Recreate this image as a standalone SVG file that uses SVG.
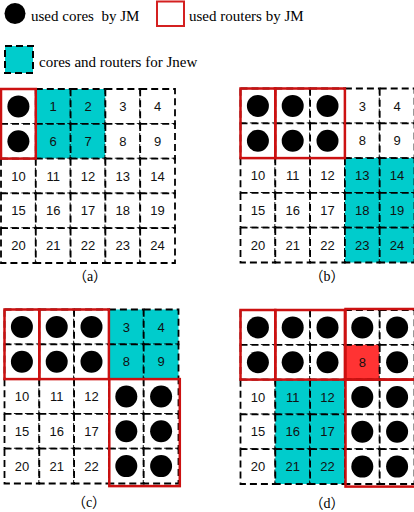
<svg xmlns="http://www.w3.org/2000/svg" width="414" height="512" viewBox="0 0 414 512">
<style>
.bg{fill:#fff}
use{fill:#fff}
.cy{fill:#00cccc}
.hot{fill:#ff3333}
.n{font-family:"Liberation Sans",Arial,sans-serif;font-size:13px;text-anchor:middle;fill:#111}
.core{fill:#000}
.red{fill:none;stroke:#cc1111;stroke-width:2.5}
.leg{font-family:"Liberation Serif","Times New Roman",serif;font-size:15px;fill:#000;white-space:pre}
.cap{font-family:"Liberation Serif","Noto Sans CJK SC",serif;font-size:14px;text-anchor:middle;fill:#000}
</style>
<defs>
<rect id="box" x="0" y="0" width="34.8" height="34.8" stroke="#000" stroke-width="1.8" stroke-dasharray="7 4"/>
</defs>
<rect class="bg" x="0" y="0" width="414" height="512"/>

<g id="legend">
<circle class="core" cx="15" cy="13.5" r="10.5"/>
<text class="leg" x="31" y="21" xml:space="preserve">used cores  by JM</text>
<rect x="157" y="1.5" width="27" height="24.5" fill="none" stroke="#d42020" stroke-width="2"/>
<text class="leg" x="189" y="21">used routers by JM</text>
<rect x="5" y="46" width="28" height="27" fill="#00cccc" stroke="#000" stroke-width="2" stroke-dasharray="7 4"/>
<text class="leg" x="39" y="67">cores and routers for Jnew</text>
</g>

<!-- Grid (a) -->
<g id="grid-a">
<g id="a0" transform="translate(1,89)"><use href="#box"/><circle class="core" cx="17.4" cy="17.4" r="11"/></g>
<g id="a1" transform="translate(35.8,89)"><use href="#box" class="cy"/><text class="n" x="17.4" y="22">1</text></g>
<g id="a2" transform="translate(70.6,89)"><use href="#box" class="cy"/><text class="n" x="17.4" y="22">2</text></g>
<g id="a3" transform="translate(105.4,89)"><use href="#box"/><text class="n" x="17.4" y="22">3</text></g>
<g id="a4" transform="translate(140.2,89)"><use href="#box"/><text class="n" x="17.4" y="22">4</text></g>
<g id="a5" transform="translate(1,123.8)"><use href="#box"/><circle class="core" cx="17.4" cy="17.4" r="11"/></g>
<g id="a6" transform="translate(35.8,123.8)"><use href="#box" class="cy"/><text class="n" x="17.4" y="22">6</text></g>
<g id="a7" transform="translate(70.6,123.8)"><use href="#box" class="cy"/><text class="n" x="17.4" y="22">7</text></g>
<g id="a8" transform="translate(105.4,123.8)"><use href="#box"/><text class="n" x="17.4" y="22">8</text></g>
<g id="a9" transform="translate(140.2,123.8)"><use href="#box"/><text class="n" x="17.4" y="22">9</text></g>
<g id="a10" transform="translate(1,158.6)"><use href="#box"/><text class="n" x="17.4" y="22">10</text></g>
<g id="a11" transform="translate(35.8,158.6)"><use href="#box"/><text class="n" x="17.4" y="22">11</text></g>
<g id="a12" transform="translate(70.6,158.6)"><use href="#box"/><text class="n" x="17.4" y="22">12</text></g>
<g id="a13" transform="translate(105.4,158.6)"><use href="#box"/><text class="n" x="17.4" y="22">13</text></g>
<g id="a14" transform="translate(140.2,158.6)"><use href="#box"/><text class="n" x="17.4" y="22">14</text></g>
<g id="a15" transform="translate(1,193.4)"><use href="#box"/><text class="n" x="17.4" y="22">15</text></g>
<g id="a16" transform="translate(35.8,193.4)"><use href="#box"/><text class="n" x="17.4" y="22">16</text></g>
<g id="a17" transform="translate(70.6,193.4)"><use href="#box"/><text class="n" x="17.4" y="22">17</text></g>
<g id="a18" transform="translate(105.4,193.4)"><use href="#box"/><text class="n" x="17.4" y="22">18</text></g>
<g id="a19" transform="translate(140.2,193.4)"><use href="#box"/><text class="n" x="17.4" y="22">19</text></g>
<g id="a20" transform="translate(1,228.2)"><use href="#box"/><text class="n" x="17.4" y="22">20</text></g>
<g id="a21" transform="translate(35.8,228.2)"><use href="#box"/><text class="n" x="17.4" y="22">21</text></g>
<g id="a22" transform="translate(70.6,228.2)"><use href="#box"/><text class="n" x="17.4" y="22">22</text></g>
<g id="a23" transform="translate(105.4,228.2)"><use href="#box"/><text class="n" x="17.4" y="22">23</text></g>
<g id="a24" transform="translate(140.2,228.2)"><use href="#box"/><text class="n" x="17.4" y="22">24</text></g>
<rect class="red" x="1" y="89" width="34.8" height="69.6"/>
<text class="cap" x="90" y="281">（a）</text>
</g>

<!-- Grid (b) -->
<g id="grid-b">
<g id="b0" transform="translate(240.5,88.5)"><use href="#box"/><circle class="core" cx="17.4" cy="17.4" r="11"/></g>
<g id="b1" transform="translate(275.3,88.5)"><use href="#box"/><circle class="core" cx="17.4" cy="17.4" r="11"/></g>
<g id="b2" transform="translate(310.1,88.5)"><use href="#box"/><circle class="core" cx="17.4" cy="17.4" r="11"/></g>
<g id="b3" transform="translate(344.9,88.5)"><use href="#box"/><text class="n" x="17.4" y="22">3</text></g>
<g id="b4" transform="translate(379.7,88.5)"><use href="#box"/><text class="n" x="17.4" y="22">4</text></g>
<g id="b5" transform="translate(240.5,123.3)"><use href="#box"/><circle class="core" cx="17.4" cy="17.4" r="11"/></g>
<g id="b6" transform="translate(275.3,123.3)"><use href="#box"/><circle class="core" cx="17.4" cy="17.4" r="11"/></g>
<g id="b7" transform="translate(310.1,123.3)"><use href="#box"/><circle class="core" cx="17.4" cy="17.4" r="11"/></g>
<g id="b8" transform="translate(344.9,123.3)"><use href="#box"/><text class="n" x="17.4" y="22">8</text></g>
<g id="b9" transform="translate(379.7,123.3)"><use href="#box"/><text class="n" x="17.4" y="22">9</text></g>
<g id="b10" transform="translate(240.5,158.1)"><use href="#box"/><text class="n" x="17.4" y="22">10</text></g>
<g id="b11" transform="translate(275.3,158.1)"><use href="#box"/><text class="n" x="17.4" y="22">11</text></g>
<g id="b12" transform="translate(310.1,158.1)"><use href="#box"/><text class="n" x="17.4" y="22">12</text></g>
<g id="b13" transform="translate(344.9,158.1)"><use href="#box" class="cy"/><text class="n" x="17.4" y="22">13</text></g>
<g id="b14" transform="translate(379.7,158.1)"><use href="#box" class="cy"/><text class="n" x="17.4" y="22">14</text></g>
<g id="b15" transform="translate(240.5,192.9)"><use href="#box"/><text class="n" x="17.4" y="22">15</text></g>
<g id="b16" transform="translate(275.3,192.9)"><use href="#box"/><text class="n" x="17.4" y="22">16</text></g>
<g id="b17" transform="translate(310.1,192.9)"><use href="#box"/><text class="n" x="17.4" y="22">17</text></g>
<g id="b18" transform="translate(344.9,192.9)"><use href="#box" class="cy"/><text class="n" x="17.4" y="22">18</text></g>
<g id="b19" transform="translate(379.7,192.9)"><use href="#box" class="cy"/><text class="n" x="17.4" y="22">19</text></g>
<g id="b20" transform="translate(240.5,227.7)"><use href="#box"/><text class="n" x="17.4" y="22">20</text></g>
<g id="b21" transform="translate(275.3,227.7)"><use href="#box"/><text class="n" x="17.4" y="22">21</text></g>
<g id="b22" transform="translate(310.1,227.7)"><use href="#box"/><text class="n" x="17.4" y="22">22</text></g>
<g id="b23" transform="translate(344.9,227.7)"><use href="#box" class="cy"/><text class="n" x="17.4" y="22">23</text></g>
<g id="b24" transform="translate(379.7,227.7)"><use href="#box" class="cy"/><text class="n" x="17.4" y="22">24</text></g>
<rect class="red" x="240.5" y="88.5" width="34.8" height="69.6"/>
<rect class="red" x="275.3" y="88.5" width="69.6" height="69.6"/>
<text class="cap" x="327" y="281">（b）</text>
</g>

<!-- Grid (c) -->
<g id="grid-c">
<g id="c0" transform="translate(4.5,309.5)"><use href="#box"/><circle class="core" cx="17.4" cy="17.4" r="11"/></g>
<g id="c1" transform="translate(39.3,309.5)"><use href="#box"/><circle class="core" cx="17.4" cy="17.4" r="11"/></g>
<g id="c2" transform="translate(74.1,309.5)"><use href="#box"/><circle class="core" cx="17.4" cy="17.4" r="11"/></g>
<g id="c3" transform="translate(108.9,309.5)"><use href="#box" class="cy"/><text class="n" x="17.4" y="22">3</text></g>
<g id="c4" transform="translate(143.7,309.5)"><use href="#box" class="cy"/><text class="n" x="17.4" y="22">4</text></g>
<g id="c5" transform="translate(4.5,344.3)"><use href="#box"/><circle class="core" cx="17.4" cy="17.4" r="11"/></g>
<g id="c6" transform="translate(39.3,344.3)"><use href="#box"/><circle class="core" cx="17.4" cy="17.4" r="11"/></g>
<g id="c7" transform="translate(74.1,344.3)"><use href="#box"/><circle class="core" cx="17.4" cy="17.4" r="11"/></g>
<g id="c8" transform="translate(108.9,344.3)"><use href="#box" class="cy"/><text class="n" x="17.4" y="22">8</text></g>
<g id="c9" transform="translate(143.7,344.3)"><use href="#box" class="cy"/><text class="n" x="17.4" y="22">9</text></g>
<g id="c10" transform="translate(4.5,379.1)"><use href="#box"/><text class="n" x="17.4" y="22">10</text></g>
<g id="c11" transform="translate(39.3,379.1)"><use href="#box"/><text class="n" x="17.4" y="22">11</text></g>
<g id="c12" transform="translate(74.1,379.1)"><use href="#box"/><text class="n" x="17.4" y="22">12</text></g>
<g id="c13" transform="translate(108.9,379.1)"><use href="#box"/><circle class="core" cx="17.4" cy="17.4" r="11"/></g>
<g id="c14" transform="translate(143.7,379.1)"><use href="#box"/><circle class="core" cx="17.4" cy="17.4" r="11"/></g>
<g id="c15" transform="translate(4.5,413.9)"><use href="#box"/><text class="n" x="17.4" y="22">15</text></g>
<g id="c16" transform="translate(39.3,413.9)"><use href="#box"/><text class="n" x="17.4" y="22">16</text></g>
<g id="c17" transform="translate(74.1,413.9)"><use href="#box"/><text class="n" x="17.4" y="22">17</text></g>
<g id="c18" transform="translate(108.9,413.9)"><use href="#box"/><circle class="core" cx="17.4" cy="17.4" r="11"/></g>
<g id="c19" transform="translate(143.7,413.9)"><use href="#box"/><circle class="core" cx="17.4" cy="17.4" r="11"/></g>
<g id="c20" transform="translate(4.5,448.7)"><use href="#box"/><text class="n" x="17.4" y="22">20</text></g>
<g id="c21" transform="translate(39.3,448.7)"><use href="#box"/><text class="n" x="17.4" y="22">21</text></g>
<g id="c22" transform="translate(74.1,448.7)"><use href="#box"/><text class="n" x="17.4" y="22">22</text></g>
<g id="c23" transform="translate(108.9,448.7)"><use href="#box"/><circle class="core" cx="17.4" cy="17.4" r="11"/></g>
<g id="c24" transform="translate(143.7,448.7)"><use href="#box"/><circle class="core" cx="17.4" cy="17.4" r="11"/></g>
<rect class="red" x="4.5" y="309.5" width="34.8" height="69.6"/>
<rect class="red" x="39.3" y="309.5" width="69.6" height="69.6"/>
<rect class="red" x="109.3" y="379.1" width="70.5" height="107"/>
<text class="cap" x="89" y="507">（c）</text>
</g>

<!-- Grid (d) -->
<g id="grid-d">
<g id="d0" transform="translate(240.5,310)"><use href="#box"/><circle class="core" cx="17.4" cy="17.4" r="11"/></g>
<g id="d1" transform="translate(275.3,310)"><use href="#box"/><circle class="core" cx="17.4" cy="17.4" r="11"/></g>
<g id="d2" transform="translate(310.1,310)"><use href="#box"/><circle class="core" cx="17.4" cy="17.4" r="11"/></g>
<g id="d3" transform="translate(344.9,310)"><use href="#box"/><circle class="core" cx="17.4" cy="17.4" r="11"/></g>
<g id="d4" transform="translate(379.7,310)"><use href="#box"/><circle class="core" cx="17.4" cy="17.4" r="11"/></g>
<g id="d5" transform="translate(240.5,344.8)"><use href="#box"/><circle class="core" cx="17.4" cy="17.4" r="11"/></g>
<g id="d6" transform="translate(275.3,344.8)"><use href="#box"/><circle class="core" cx="17.4" cy="17.4" r="11"/></g>
<g id="d7" transform="translate(310.1,344.8)"><use href="#box"/><circle class="core" cx="17.4" cy="17.4" r="11"/></g>
<g id="d8" transform="translate(344.9,344.8)"><use href="#box" class="hot"/><text class="n" x="17.4" y="22">8</text></g>
<g id="d9" transform="translate(379.7,344.8)"><use href="#box"/><circle class="core" cx="17.4" cy="17.4" r="11"/></g>
<g id="d10" transform="translate(240.5,379.6)"><use href="#box"/><text class="n" x="17.4" y="22">10</text></g>
<g id="d11" transform="translate(275.3,379.6)"><use href="#box" class="cy"/><text class="n" x="17.4" y="22">11</text></g>
<g id="d12" transform="translate(310.1,379.6)"><use href="#box" class="cy"/><text class="n" x="17.4" y="22">12</text></g>
<g id="d13" transform="translate(344.9,379.6)"><use href="#box"/><circle class="core" cx="17.4" cy="17.4" r="11"/></g>
<g id="d14" transform="translate(379.7,379.6)"><use href="#box"/><circle class="core" cx="17.4" cy="17.4" r="11"/></g>
<g id="d15" transform="translate(240.5,414.4)"><use href="#box"/><text class="n" x="17.4" y="22">15</text></g>
<g id="d16" transform="translate(275.3,414.4)"><use href="#box" class="cy"/><text class="n" x="17.4" y="22">16</text></g>
<g id="d17" transform="translate(310.1,414.4)"><use href="#box" class="cy"/><text class="n" x="17.4" y="22">17</text></g>
<g id="d18" transform="translate(344.9,414.4)"><use href="#box"/><circle class="core" cx="17.4" cy="17.4" r="11"/></g>
<g id="d19" transform="translate(379.7,414.4)"><use href="#box"/><circle class="core" cx="17.4" cy="17.4" r="11"/></g>
<g id="d20" transform="translate(240.5,449.2)"><use href="#box"/><text class="n" x="17.4" y="22">20</text></g>
<g id="d21" transform="translate(275.3,449.2)"><use href="#box" class="cy"/><text class="n" x="17.4" y="22">21</text></g>
<g id="d22" transform="translate(310.1,449.2)"><use href="#box" class="cy"/><text class="n" x="17.4" y="22">22</text></g>
<g id="d23" transform="translate(344.9,449.2)"><use href="#box"/><circle class="core" cx="17.4" cy="17.4" r="11"/></g>
<g id="d24" transform="translate(379.7,449.2)"><use href="#box"/><circle class="core" cx="17.4" cy="17.4" r="11"/></g>
<rect class="red" x="240.5" y="310" width="34.8" height="69.6"/>
<rect class="red" x="275.3" y="310" width="69.6" height="69.6"/>
<rect class="red" x="345.5" y="309" width="72" height="70.6"/>
<rect class="red" x="345.5" y="379.6" width="72" height="107"/>
<text class="cap" x="327" y="508">（d）</text>
</g>

<g id="connectors"></g>
</svg>
